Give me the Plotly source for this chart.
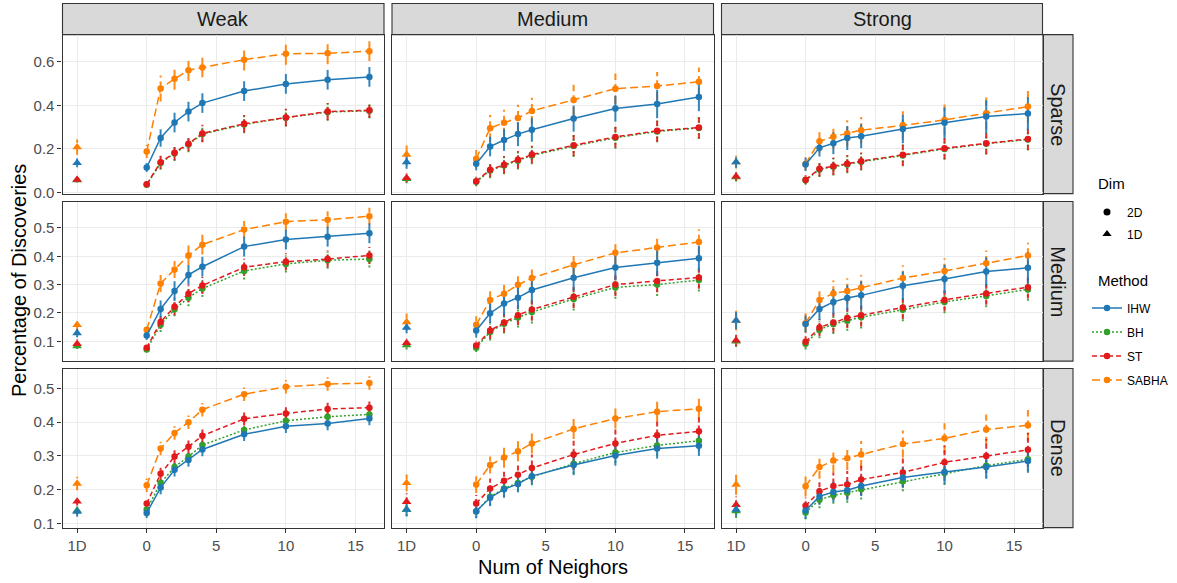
import plotly.graph_objects as go

W, H = 1177, 583

# ---------------- data ----------------
NEIGHBORS = [0, 1, 2, 3, 4, 7, 10, 13, 16]
X_1D = -5
XTICK_VALS = [-5, 0, 5, 10, 15]
XTICK_TEXT = ["1D", "0", "5", "10", "15"]
SIGNALS = ["Weak", "Medium", "Strong"]
DENSITIES = ["Sparse", "Medium", "Dense"]
METHODS = ["IHW", "BH", "ST", "SABHA"]

# each list: first value = 1D, then values at NEIGHBORS
weak_sparse_ihw = [0.136, 0.115, 0.250, 0.321, 0.371, 0.410, 0.465, 0.498, 0.517, 0.530]
weak_sparse_bh = [0.057, 0.036, 0.135, 0.180, 0.220, 0.268, 0.312, 0.343, 0.369, 0.375]
weak_sparse_st = [0.059, 0.038, 0.139, 0.183, 0.224, 0.271, 0.315, 0.344, 0.371, 0.377]
weak_sparse_sabha = [0.208, 0.188, 0.477, 0.521, 0.561, 0.573, 0.609, 0.636, 0.638, 0.648]

weak_medium_ihw = [0.129, 0.120, 0.214, 0.277, 0.334, 0.363, 0.434, 0.459, 0.469, 0.481]
weak_medium_bh = [0.083, 0.071, 0.158, 0.213, 0.254, 0.286, 0.348, 0.373, 0.386, 0.390]
weak_medium_st = [0.091, 0.077, 0.168, 0.222, 0.268, 0.297, 0.361, 0.381, 0.390, 0.403]
weak_medium_sabha = [0.158, 0.141, 0.304, 0.353, 0.403, 0.441, 0.494, 0.522, 0.529, 0.541]

weak_dense_ihw = [0.135, 0.131, 0.206, 0.259, 0.288, 0.319, 0.364, 0.388, 0.396, 0.411]
weak_dense_bh = [0.138, 0.141, 0.220, 0.267, 0.298, 0.332, 0.377, 0.404, 0.416, 0.423]
weak_dense_st = [0.165, 0.159, 0.247, 0.298, 0.327, 0.360, 0.410, 0.426, 0.439, 0.443]
weak_dense_sabha = [0.218, 0.213, 0.322, 0.368, 0.400, 0.437, 0.483, 0.505, 0.513, 0.516]

medium_sparse_ihw = [0.139, 0.132, 0.211, 0.241, 0.268, 0.288, 0.339, 0.385, 0.406, 0.438]
medium_sparse_bh = [0.063, 0.049, 0.101, 0.124, 0.146, 0.170, 0.213, 0.251, 0.280, 0.296]
medium_sparse_st = [0.067, 0.052, 0.105, 0.127, 0.150, 0.174, 0.217, 0.255, 0.283, 0.298]
medium_sparse_sabha = [0.174, 0.155, 0.295, 0.320, 0.342, 0.374, 0.424, 0.476, 0.488, 0.508]

medium_medium_ihw = [0.148, 0.138, 0.199, 0.233, 0.254, 0.281, 0.324, 0.360, 0.377, 0.393]
medium_medium_bh = [0.086, 0.077, 0.133, 0.162, 0.184, 0.203, 0.249, 0.290, 0.300, 0.316]
medium_medium_st = [0.094, 0.085, 0.138, 0.166, 0.192, 0.212, 0.257, 0.300, 0.313, 0.325]
medium_medium_sabha = [0.168, 0.158, 0.246, 0.268, 0.299, 0.323, 0.370, 0.412, 0.431, 0.450]

medium_dense_ihw = [0.141, 0.136, 0.176, 0.201, 0.217, 0.240, 0.273, 0.301, 0.322, 0.330]
medium_dense_bh = [0.141, 0.135, 0.179, 0.203, 0.220, 0.238, 0.277, 0.310, 0.331, 0.345]
medium_dense_st = [0.164, 0.159, 0.203, 0.226, 0.244, 0.264, 0.304, 0.337, 0.361, 0.373]
medium_dense_sabha = [0.220, 0.215, 0.273, 0.295, 0.314, 0.337, 0.380, 0.411, 0.431, 0.440]

strong_sparse_ihw = [0.139, 0.129, 0.205, 0.226, 0.250, 0.258, 0.291, 0.320, 0.348, 0.362]
strong_sparse_bh = [0.071, 0.056, 0.106, 0.118, 0.129, 0.141, 0.170, 0.200, 0.224, 0.243]
strong_sparse_st = [0.074, 0.059, 0.109, 0.121, 0.132, 0.144, 0.173, 0.203, 0.226, 0.245]
strong_sparse_sabha = [0.140, 0.132, 0.235, 0.256, 0.271, 0.286, 0.308, 0.333, 0.364, 0.394]

strong_medium_ihw = [0.173, 0.161, 0.214, 0.239, 0.253, 0.262, 0.296, 0.320, 0.346, 0.359]
strong_medium_bh = [0.100, 0.091, 0.141, 0.161, 0.172, 0.185, 0.211, 0.239, 0.260, 0.283]
strong_medium_st = [0.103, 0.098, 0.149, 0.166, 0.182, 0.192, 0.219, 0.246, 0.269, 0.291]
strong_medium_sabha = [0.173, 0.164, 0.246, 0.269, 0.277, 0.289, 0.323, 0.348, 0.375, 0.403]

strong_dense_ihw = [0.141, 0.138, 0.180, 0.193, 0.198, 0.211, 0.236, 0.252, 0.267, 0.285]
strong_dense_bh = [0.136, 0.132, 0.170, 0.183, 0.191, 0.201, 0.225, 0.249, 0.271, 0.290]
strong_dense_st = [0.155, 0.152, 0.195, 0.211, 0.215, 0.230, 0.251, 0.281, 0.300, 0.318]
strong_dense_sabha = [0.215, 0.210, 0.267, 0.286, 0.293, 0.304, 0.335, 0.352, 0.378, 0.391]

# error-bar half widths (same layout as values)
weak_sparse_ihw_err = [0.020, 0.020, 0.040, 0.045, 0.045, 0.045, 0.045, 0.045, 0.045, 0.045]
weak_sparse_bh_err = [0.010, 0.010, 0.030, 0.035, 0.035, 0.035, 0.040, 0.040, 0.040, 0.035]
weak_sparse_st_err = [0.012, 0.012, 0.030, 0.035, 0.035, 0.040, 0.040, 0.040, 0.040, 0.035]
weak_sparse_sabha_err = [0.035, 0.030, 0.060, 0.050, 0.050, 0.045, 0.050, 0.050, 0.050, 0.045]

weak_medium_ihw_err = [0.015, 0.015, 0.030, 0.035, 0.035, 0.035, 0.035, 0.035, 0.035, 0.035]
weak_medium_bh_err = [0.010, 0.010, 0.025, 0.025, 0.030, 0.030, 0.030, 0.030, 0.030, 0.030]
weak_medium_st_err = [0.015, 0.012, 0.025, 0.030, 0.030, 0.030, 0.030, 0.030, 0.030, 0.030]
weak_medium_sabha_err = [0.020, 0.020, 0.030, 0.030, 0.035, 0.035, 0.030, 0.030, 0.030, 0.030]

weak_dense_ihw_err = [0.015, 0.015, 0.020, 0.020, 0.020, 0.020, 0.020, 0.020, 0.020, 0.020]
weak_dense_bh_err = [0.012, 0.012, 0.018, 0.018, 0.018, 0.018, 0.018, 0.018, 0.018, 0.018]
weak_dense_st_err = [0.012, 0.012, 0.018, 0.020, 0.020, 0.020, 0.020, 0.020, 0.020, 0.020]
weak_dense_sabha_err = [0.020, 0.020, 0.020, 0.020, 0.020, 0.020, 0.020, 0.020, 0.020, 0.020]

medium_sparse_ihw_err = [0.030, 0.030, 0.045, 0.050, 0.055, 0.055, 0.060, 0.060, 0.065, 0.065]
medium_sparse_bh_err = [0.020, 0.020, 0.035, 0.040, 0.040, 0.040, 0.050, 0.050, 0.050, 0.050]
medium_sparse_st_err = [0.020, 0.020, 0.035, 0.040, 0.040, 0.040, 0.050, 0.050, 0.050, 0.050]
medium_sparse_sabha_err = [0.050, 0.040, 0.060, 0.060, 0.060, 0.060, 0.070, 0.070, 0.065, 0.065]

medium_medium_ihw_err = [0.020, 0.025, 0.035, 0.040, 0.040, 0.045, 0.045, 0.045, 0.045, 0.045]
medium_medium_bh_err = [0.015, 0.015, 0.030, 0.035, 0.035, 0.040, 0.040, 0.040, 0.040, 0.040]
medium_medium_st_err = [0.015, 0.015, 0.030, 0.035, 0.035, 0.040, 0.040, 0.040, 0.040, 0.040]
medium_medium_sabha_err = [0.030, 0.030, 0.040, 0.040, 0.040, 0.040, 0.040, 0.040, 0.040, 0.045]

medium_dense_ihw_err = [0.020, 0.020, 0.025, 0.025, 0.025, 0.025, 0.030, 0.030, 0.030, 0.030]
medium_dense_bh_err = [0.020, 0.020, 0.025, 0.025, 0.025, 0.025, 0.030, 0.030, 0.030, 0.030]
medium_dense_st_err = [0.025, 0.025, 0.030, 0.035, 0.035, 0.040, 0.045, 0.045, 0.045, 0.045]
medium_dense_sabha_err = [0.025, 0.025, 0.025, 0.030, 0.030, 0.030, 0.030, 0.030, 0.030, 0.030]

strong_sparse_ihw_err = [0.025, 0.030, 0.040, 0.050, 0.055, 0.055, 0.065, 0.070, 0.075, 0.075]
strong_sparse_bh_err = [0.020, 0.020, 0.035, 0.040, 0.040, 0.040, 0.050, 0.050, 0.050, 0.050]
strong_sparse_st_err = [0.020, 0.020, 0.035, 0.040, 0.040, 0.040, 0.050, 0.050, 0.050, 0.050]
strong_sparse_sabha_err = [0.030, 0.030, 0.050, 0.055, 0.060, 0.060, 0.065, 0.070, 0.075, 0.075]

strong_medium_ihw_err = [0.030, 0.030, 0.040, 0.045, 0.045, 0.050, 0.050, 0.050, 0.050, 0.055]
strong_medium_bh_err = [0.020, 0.020, 0.030, 0.035, 0.035, 0.040, 0.040, 0.040, 0.040, 0.040]
strong_medium_st_err = [0.020, 0.020, 0.030, 0.035, 0.035, 0.040, 0.040, 0.040, 0.040, 0.040]
strong_medium_sabha_err = [0.035, 0.035, 0.040, 0.045, 0.045, 0.045, 0.045, 0.045, 0.045, 0.045]

strong_dense_ihw_err = [0.020, 0.025, 0.025, 0.030, 0.030, 0.030, 0.030, 0.035, 0.035, 0.035]
strong_dense_bh_err = [0.020, 0.020, 0.025, 0.025, 0.030, 0.030, 0.030, 0.035, 0.035, 0.035]
strong_dense_st_err = [0.025, 0.025, 0.035, 0.040, 0.040, 0.045, 0.045, 0.050, 0.050, 0.050]
strong_dense_sabha_err = [0.030, 0.030, 0.035, 0.035, 0.035, 0.040, 0.040, 0.045, 0.045, 0.045]

ROW_YRANGES = {"Sparse": [-0.005, 0.724], "Medium": [0.030, 0.593], "Dense": [0.0875, 0.559]}
ROW_DTICK = {"Sparse": 0.2, "Medium": 0.1, "Dense": 0.1}

# ---------------- lookup tables built from the named lists ----------------
g = globals()
VALUES = {(s, d): {m: g[f"{s.lower()}_{d.lower()}_{m.lower()}"] for m in METHODS}
          for s in SIGNALS for d in DENSITIES}
ERRORS = {(s, d): {m: g[f"{s.lower()}_{d.lower()}_{m.lower()}_err"] for m in METHODS}
          for s in SIGNALS for d in DENSITIES}

# ---------------- styles ----------------
FONT = "Liberation Sans, Arial, Helvetica, sans-serif"
COLORS = {"IHW": "#1F78B4", "BH": "#33A02C", "ST": "#E31A1C", "SABHA": "#FF7F00"}
DASHES = {"IHW": "solid", "BH": "2px,2px", "ST": "5px,3px", "SABHA": "8px,4px"}
DRAW_ORDER = ["SABHA", "BH", "ST", "IHW"]

COL_X = [(62.5, 384.0), (392.0, 713.5), (721.5, 1042.5)]
ROW_Y = [(35.0, 196.0), (204.0, 365.5), (373.0, 534.0)]
XRANGE = [-6.05, 17.05]


def px_x(v):
    return v / W


def px_y(v):
    return 1 - v / H


fig = go.Figure()
layout = {}

for c, sig in enumerate(SIGNALS):
    for r, den in enumerate(DENSITIES):
        idx = r * 3 + c + 1
        xa = "x" if idx == 1 else f"x{idx}"
        ya = "y" if idx == 1 else f"y{idx}"
        for m in DRAW_ORDER:
            vals = VALUES[(sig, den)][m]
            errs = ERRORS[(sig, den)][m]
            xs_all = [X_1D] + NEIGHBORS
            ex, ey = [], []
            for xv, yv, ev in zip(xs_all, vals, errs):
                ex += [xv, xv, None]
                ey += [yv - ev, yv + ev, None]
            fig.add_trace(go.Scatter(
                x=ex, y=ey, mode="lines", xaxis=xa, yaxis=ya,
                line=dict(color=COLORS[m], width=2, dash=DASHES[m]),
                opacity=0.9, showlegend=False, hoverinfo="skip"))
        for m in DRAW_ORDER:
            vals = VALUES[(sig, den)][m]
            first = (idx == 1)
            fig.add_trace(go.Scatter(
                x=NEIGHBORS, y=vals[1:], mode="lines+markers", xaxis=xa, yaxis=ya,
                name=m, legend="legend2", legendgroup=m,
                legendrank=METHODS.index(m) + 1,
                showlegend=first,
                line=dict(color=COLORS[m], width=1.5, dash=DASHES[m]),
                marker=dict(color=COLORS[m], size=6.5, symbol="circle")))
            fig.add_trace(go.Scatter(
                x=[X_1D], y=[vals[0]], mode="markers", xaxis=xa, yaxis=ya,
                showlegend=False,
                marker=dict(color=COLORS[m], size=8.5, symbol="triangle-up")))

        x0, x1 = COL_X[c]
        y0, y1 = ROW_Y[r]
        bottom = (r == 2)
        left = (c == 0)
        xkey = "xaxis" if idx == 1 else f"xaxis{idx}"
        ykey = "yaxis" if idx == 1 else f"yaxis{idx}"
        layout[xkey] = dict(
            domain=[px_x(x0), px_x(x1)], anchor=ya, range=XRANGE,
            tickvals=XTICK_VALS, ticktext=XTICK_TEXT,
            showticklabels=bottom, ticks="outside" if bottom else "",
            ticklen=4, tickcolor="#333333", tickwidth=1,
            tickfont=dict(family=FONT, size=15, color="#4D4D4D"),
            showgrid=True, gridcolor="#EBEBEB", gridwidth=1.1,
            zeroline=False, showline=True, mirror=True,
            linecolor="#333333", linewidth=1.1, fixedrange=True)
        layout[ykey] = dict(
            domain=[px_y(y1), px_y(y0)], anchor=xa, range=ROW_YRANGES[den],
            tick0=0, dtick=ROW_DTICK[den], tickformat=".1f",
            showticklabels=left, ticks="outside" if left else "",
            ticklen=4, tickcolor="#333333", tickwidth=1,
            tickfont=dict(family=FONT, size=15, color="#4D4D4D"),
            showgrid=True, gridcolor="#EBEBEB", gridwidth=1.1,
            zeroline=False, showline=True, mirror=True,
            linecolor="#333333", linewidth=1.1, fixedrange=True)

# legend-only entries for the Dim shapes
fig.add_trace(go.Scatter(x=[None], y=[None], mode="markers", name="2D",
                         legend="legend", legendgroup="2D",
                         marker=dict(color="black", size=7, symbol="circle")))
fig.add_trace(go.Scatter(x=[None], y=[None], mode="markers", name="1D",
                         legend="legend", legendgroup="1D",
                         marker=dict(color="black", size=8, symbol="triangle-up")))

# strips
shapes = []
annotations = []
STRIP_TOP = (3.5, 35.0)
STRIP_RIGHT = (1043.0, 1073.0)
for c, sig in enumerate(SIGNALS):
    x0, x1 = COL_X[c]
    shapes.append(dict(type="rect", xref="paper", yref="paper",
                       x0=px_x(x0), x1=px_x(x1), y0=px_y(STRIP_TOP[1]), y1=px_y(STRIP_TOP[0]),
                       fillcolor="#D9D9D9", line=dict(color="#333333", width=1.1), layer="below"))
    annotations.append(dict(text=sig, xref="paper", yref="paper",
                            x=px_x((x0 + x1) / 2), y=px_y(sum(STRIP_TOP) / 2),
                            showarrow=False, xanchor="center", yanchor="middle",
                            font=dict(family=FONT, size=20, color="#1A1A1A")))
for r, den in enumerate(DENSITIES):
    y0, y1 = ROW_Y[r]
    shapes.append(dict(type="rect", xref="paper", yref="paper",
                       x0=px_x(STRIP_RIGHT[0]), x1=px_x(STRIP_RIGHT[1]), y0=px_y(y1), y1=px_y(y0),
                       fillcolor="#D9D9D9", line=dict(color="#333333", width=1.1), layer="below"))
    annotations.append(dict(text=den, xref="paper", yref="paper",
                            x=px_x(sum(STRIP_RIGHT) / 2), y=px_y((y0 + y1) / 2),
                            showarrow=False, xanchor="center", yanchor="middle", textangle=90,
                            font=dict(family=FONT, size=20, color="#1A1A1A")))

annotations.append(dict(text="Percentage of Discoveries", xref="paper", yref="paper",
                        x=px_x(19), y=px_y((ROW_Y[0][0] + ROW_Y[2][1]) / 2),
                        showarrow=False, textangle=-90, xanchor="center", yanchor="middle",
                        font=dict(family=FONT, size=20, color="black")))
annotations.append(dict(text="Num of Neighors", xref="paper", yref="paper",
                        x=px_x((COL_X[0][0] + COL_X[2][1]) / 2), y=px_y(574),
                        showarrow=False, xanchor="center", yanchor="middle",
                        font=dict(family=FONT, size=20, color="black")))
# legend titles
annotations.append(dict(text="Dim", xref="paper", yref="paper",
                        x=px_x(1096), y=px_y(186), showarrow=False,
                        xanchor="left", yanchor="middle",
                        font=dict(family=FONT, size=15, color="black")))
annotations.append(dict(text="Method", xref="paper", yref="paper",
                        x=px_x(1096), y=px_y(284), showarrow=False,
                        xanchor="left", yanchor="middle",
                        font=dict(family=FONT, size=15, color="black")))

fig.update_layout(
    width=W, height=H, margin=dict(l=0, r=0, t=0, b=0),
    paper_bgcolor="white", plot_bgcolor="white",
    shapes=shapes, annotations=annotations,
    legend=dict(x=px_x(1087), y=px_y(200), xanchor="left", yanchor="top",
                font=dict(family=FONT, size=12, color="black"),
                tracegroupgap=3, itemwidth=30, bgcolor="rgba(0,0,0,0)"),
    legend2=dict(x=px_x(1087), y=px_y(297), xanchor="left", yanchor="top",
                 font=dict(family=FONT, size=12, color="black"),
                 tracegroupgap=5, itemwidth=30, bgcolor="rgba(0,0,0,0)"),
    **layout,
)

fig.write_html("out.html")
